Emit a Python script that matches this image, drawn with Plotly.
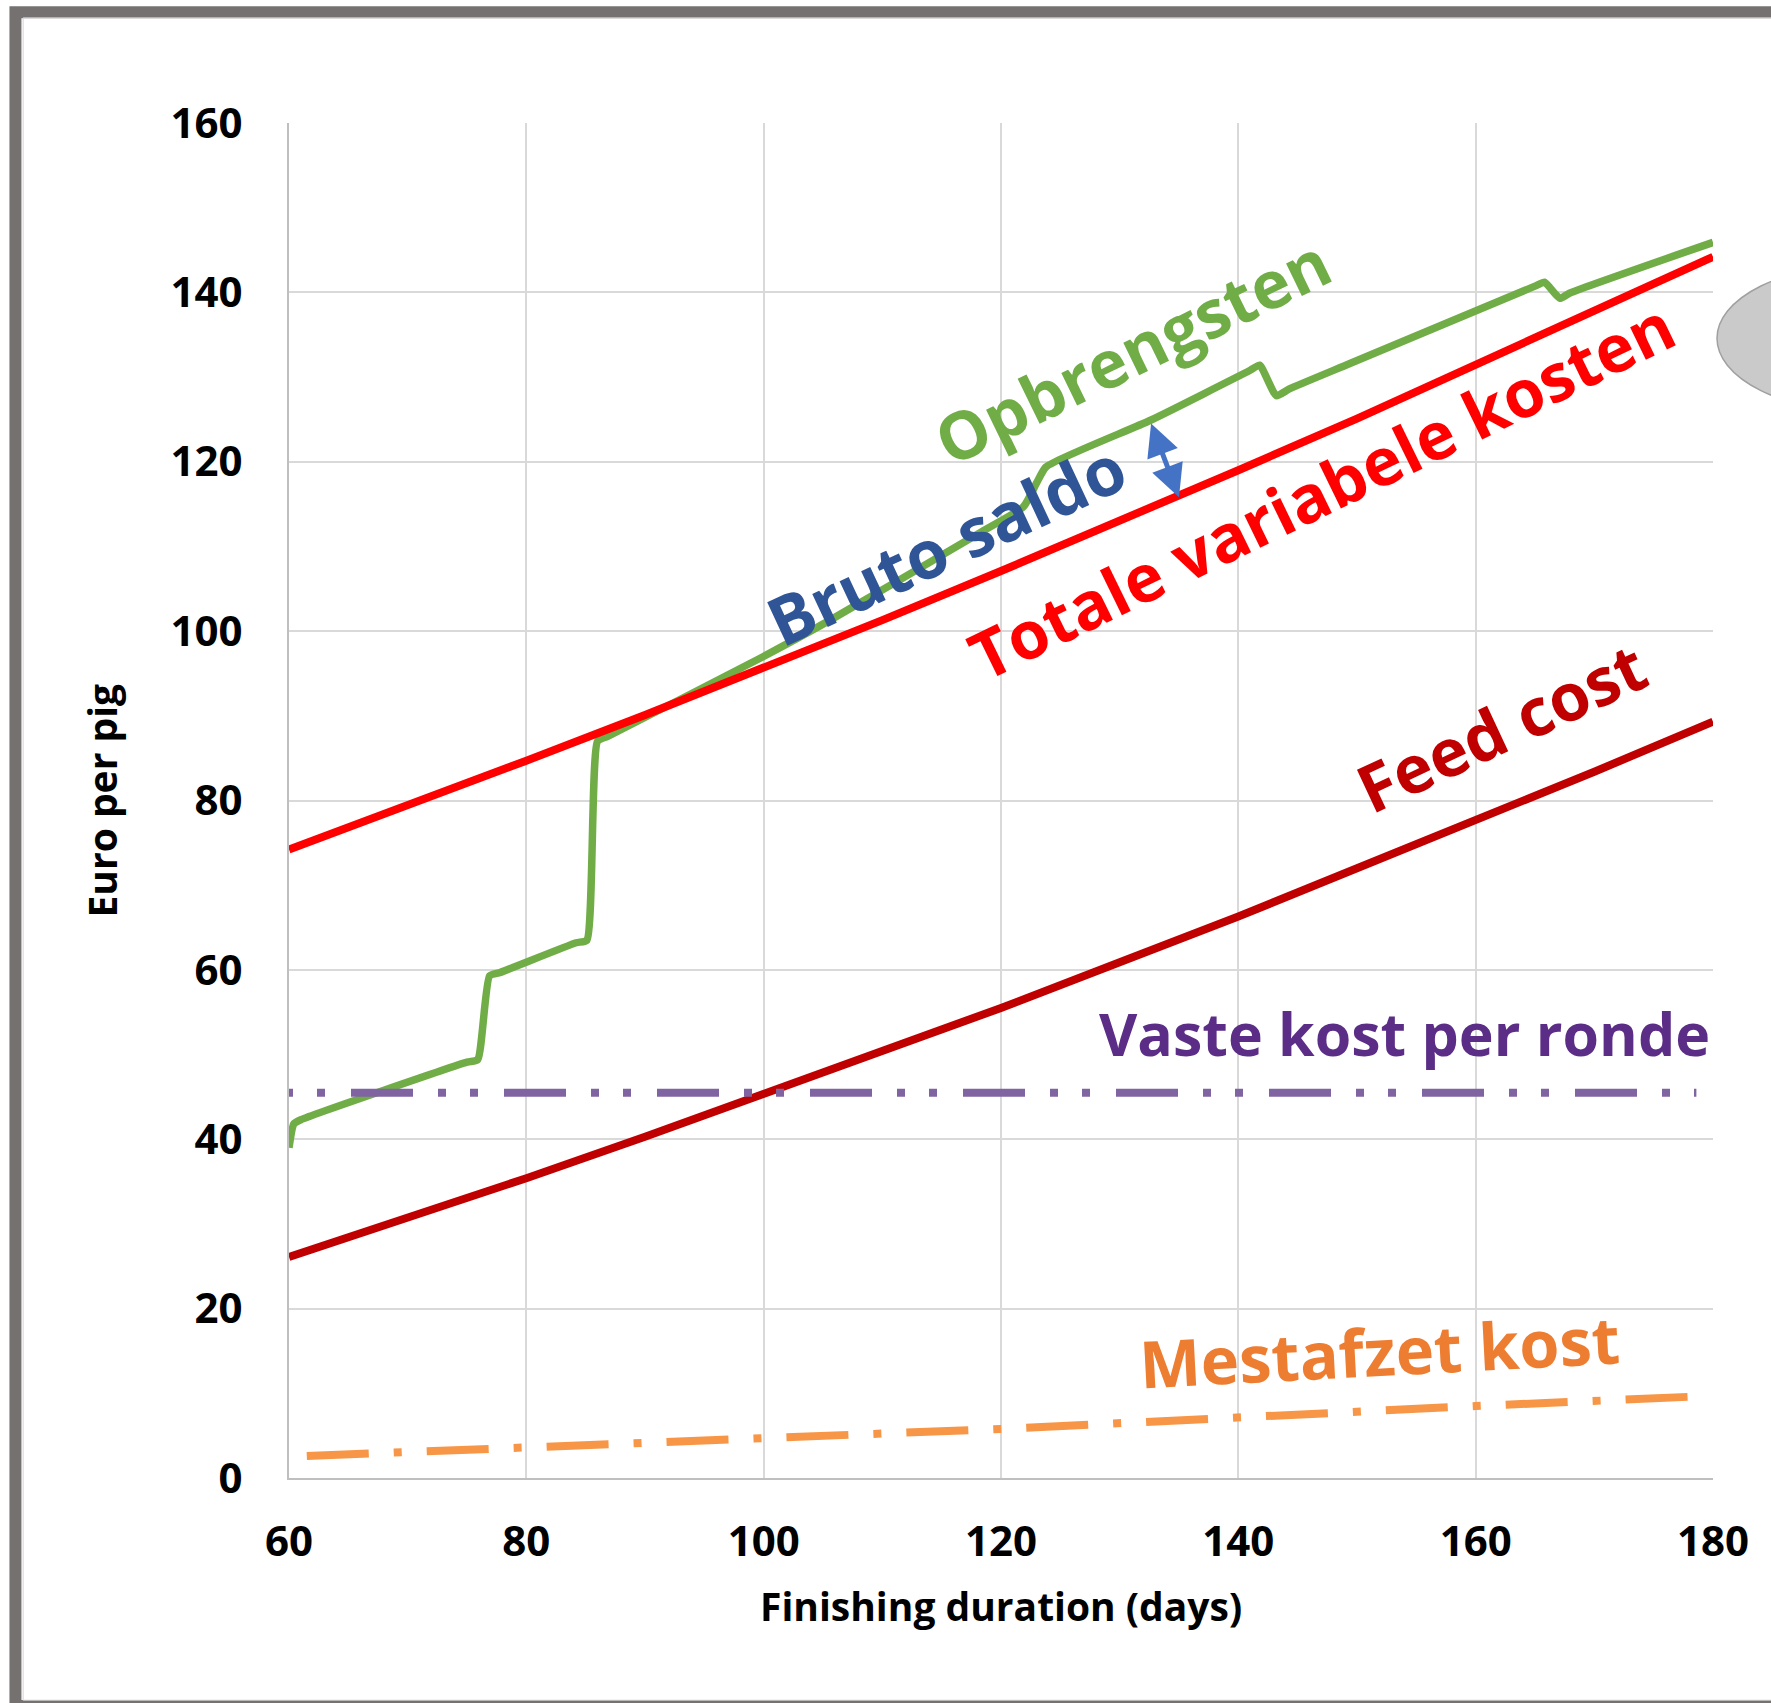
import plotly.graph_objects as go

# ---------------- data ----------------
days_grid = [60, 70, 80, 90, 100, 110, 120, 130, 140, 150, 160, 170, 180]
totale_variabele_kosten = [74.2, 79.4, 84.7, 90.1, 95.6, 101.3, 107.1, 113.0, 119.0, 125.1, 131.4, 137.8, 144.2]
feed_cost = [26.1, 30.7, 35.4, 40.3, 45.3, 50.4, 55.5, 60.9, 66.3, 72.0, 77.6, 83.4, 89.3]

opbrengsten_days = [60, 60.4, 61.0, 75.0, 75.9, 76.9, 77.8, 84.2, 85.1, 86.0, 86.9, 99.7, 105.6,
                    118.2, 121.9, 123.0, 123.8, 132.6, 141.0, 141.8, 143.2, 144.3, 149.4,
                    165.1, 165.8, 167.1, 167.9, 180]
opbrengsten = [39.0, 41.8, 42.3, 49.1, 49.4, 59.3, 59.7, 63.2, 63.5, 87.0, 87.6, 96.8, 101.3,
               111.6, 114.7, 117.5, 119.4, 124.9, 130.8, 131.4, 127.8, 128.6, 131.6,
               140.8, 141.2, 139.3, 139.9, 145.9]

vaste_days = [60, 178.6]
vaste_kost = [45.5, 45.5]

mest_days = [61.5, 80, 100, 120, 140, 160, 178.2]
mest_kost = [2.6, 3.5, 4.7, 5.8, 7.2, 8.5, 9.6]

x_ticks = [60, 80, 100, 120, 140, 160, 180]
y_ticks = [0, 20, 40, 60, 80, 100, 120, 140, 160]

# bruto saldo arrow (between revenue and total variable cost)
arrow_days = [132.6, 135.0]
arrow_vals = [124.7, 115.8]

# ---------------- figure ----------------
fig = go.Figure()

fig.add_trace(go.Scatter(x=days_grid, y=feed_cost, mode="lines",
                         line=dict(color="#C00000", width=8), name="Feed cost"))
fig.add_trace(go.Scatter(x=opbrengsten_days, y=opbrengsten, mode="lines",
                         line=dict(color="#70AD47", width=7.5, shape="spline", smoothing=0.5),
                         name="Opbrengsten"))
fig.add_trace(go.Scatter(x=days_grid, y=totale_variabele_kosten, mode="lines",
                         line=dict(color="#FF0000", width=8), name="Totale variabele kosten"))
fig.add_trace(go.Scatter(x=vaste_days, y=vaste_kost, mode="lines",
                         line=dict(color="#8064A2", width=8,
                                   dash="4px,24px,8px,26px,62px,25px,4px,0px"),
                         name="Vaste kost per ronde"))
fig.add_trace(go.Scatter(x=mest_days, y=mest_kost, mode="lines",
                         line=dict(color="#F79646", width=8, dash="62px,25px,8px,25px"),
                         name="Mestafzet kost"))

ann_font = "Open Sans, sans-serif"
annotations = [
    dict(text="Opbrengsten", x=131.0, y=133.2, textangle=-26, font=dict(color="#70AD47", size=66)),
    dict(text="Bruto saldo", x=115.4, y=110.4, textangle=-25, font=dict(color="#2F5597", size=67)),
    dict(text="Totale variabele kosten", x=147.0, y=116.8, textangle=-26, font=dict(color="#FF0000", size=66)),
    dict(text="Feed cost", x=162.1, y=88.8, textangle=-25, font=dict(color="#C00000", size=66)),
    dict(text="Vaste kost per ronde", x=154.0, y=52.5, textangle=0, font=dict(color="#5B2D86", size=59)),
    dict(text="Mestafzet kost", x=151.9, y=15.0, textangle=-3, font=dict(color="#ED7D31", size=65)),
]
for a in annotations:
    a["font"]["family"] = ann_font
    a["font"]["weight"] = "bold"
    fig.add_annotation(xref="x", yref="y", showarrow=False, xanchor="center", yanchor="middle", **a)

# double-headed arrow
fig.add_annotation(x=arrow_days[1], y=arrow_vals[1], ax=arrow_days[0], ay=arrow_vals[0],
                   xref="x", yref="y", axref="x", ayref="y", text="", showarrow=True,
                   arrowhead=2, startarrowhead=2, arrowside="end+start", arrowsize=1.3,
                   startarrowsize=1.3, arrowwidth=5, arrowcolor="#4472C4")

# axis titles
title_font = dict(family="Open Sans, sans-serif", size=39, color="black", weight="bold")
fig.add_annotation(text="Finishing duration (days)", xref="paper", yref="paper", x=0.5, y=-0.0944,
                   showarrow=False, xanchor="center", yanchor="middle", font=title_font)
fig.add_annotation(text="Euro per pig", xref="paper", yref="paper", x=-0.132, y=0.5, textangle=-90,
                   showarrow=False, xanchor="center", yanchor="middle", font=title_font)

# frame and decorative ellipse
fig.add_shape(type="rect", xref="paper", yref="paper", x0=-0.1921, x1=1.0611, y0=-0.1682, y1=1.0817,
              line=dict(color="#767171", width=12), fillcolor="rgba(0,0,0,0)", layer="above")
fig.add_shape(type="rect", xref="paper", yref="paper", x0=-0.1867, x1=1.05, y0=-0.164, y1=1.0776,
              line=dict(color="#D6D4D4", width=1), fillcolor="rgba(0,0,0,0)", layer="above")
fig.add_shape(type="circle", xref="paper", yref="paper", x0=1.0028, x1=1.2135, y0=0.7865, y1=0.8957,
              line=dict(color="#A0A0A0", width=1.5), fillcolor="#CACACA", layer="above")

tick_font = dict(family="Open Sans, sans-serif", size=42, color="black", weight="bold")
fig.update_xaxes(range=[60, 180], tickvals=x_ticks, ticktext=[str(v) for v in x_ticks],
                 showgrid=True, gridcolor="#D9D9D9", gridwidth=2,
                 showline=True, linecolor="#BFBFBF", linewidth=2, zeroline=False,
                 ticks="outside", ticklen=26, tickcolor="rgba(0,0,0,0)", tickfont=tick_font)
fig.update_yaxes(range=[0, 160], tickvals=y_ticks, ticktext=[str(v) for v in y_ticks],
                 showgrid=True, gridcolor="#D9D9D9", gridwidth=2,
                 showline=True, linecolor="#BFBFBF", linewidth=2, zeroline=False,
                 ticks="outside", ticklen=36, tickcolor="rgba(0,0,0,0)", tickfont=tick_font)

fig.update_layout(width=1771, height=1703, margin=dict(l=289, r=58, t=123, b=225),
                  paper_bgcolor="white", plot_bgcolor="white", showlegend=False)

fig.write_html("out.html")
